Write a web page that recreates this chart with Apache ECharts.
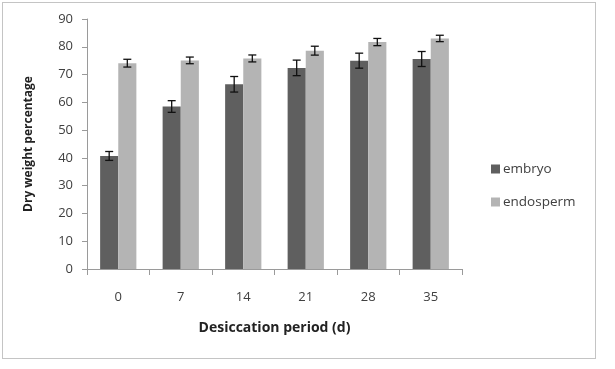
<!DOCTYPE html>
<html>
<head>
<meta charset="utf-8">
<script src="https://cdn.jsdelivr.net/npm/echarts@6/dist/echarts.min.js"></script>
<style>
  html, body { margin: 0; padding: 0; background: #fff; }
  #chart { width: 615px; height: 369px; }
  #frame { position: absolute; left: 2px; top: 2px; width: 592px; height: 355px; border: 1.5px solid #c4c4c4; pointer-events: none; }
</style>
</head>
<body>
<div id="chart"></div>
<div id="frame"></div>
<script>
const categories = ["0", "7", "14", "21", "28", "35"];
const embryo = [40.7, 58.5, 66.5, 72.4, 75.0, 75.6];
const embryoErr = [1.6, 2.1, 2.8, 2.8, 2.7, 2.7];
const endosperm = [74.1, 75.1, 75.8, 78.6, 81.7, 83.0];
const endospermErr = [1.4, 1.2, 1.25, 1.6, 1.3, 1.15];
const yTicks = { min: 0, max: 90, interval: 10 };

const font = "'Open Sans', 'Noto Sans', sans-serif";
const catGap = 0.42;

// error bar drawn with custom series, shifted to sit on its bar
function errorSeries(name, vals, errs, side) {
  return {
    type: "custom",
    name: name + " err",
    z: 10,
    silent: true,
    data: vals.map((v, i) => [i, v - errs[i], v + errs[i]]),
    renderItem(params, api) {
      const band = api.size([1, 0])[0];
      const bw = band * (1 - catGap) / 2;
      const lo = api.coord([api.value(0), api.value(1)]);
      const hi = api.coord([api.value(0), api.value(2)]);
      const x = lo[0] + side * bw / 2;
      const cap = 4;
      const style = { stroke: "#111", lineWidth: 1.3 };
      return {
        type: "group",
        children: [
          { type: "line", shape: { x1: x, y1: lo[1], x2: x, y2: hi[1] }, style },
          { type: "line", shape: { x1: x - cap, y1: lo[1], x2: x + cap, y2: lo[1] }, style },
          { type: "line", shape: { x1: x - cap, y1: hi[1], x2: x + cap, y2: hi[1] }, style }
        ]
      };
    }
  };
}

const chart = echarts.init(document.getElementById("chart"));
chart.setOption({
  animation: false,
  backgroundColor: "#fff",
  textStyle: { fontFamily: font },
  grid: { left: 87, right: 153, top: 19, bottom: 100 },
  legend: {
    data: ["embryo", "endosperm"],
    orient: "vertical",
    left: 486,
    top: 157,
    icon: "rect",
    itemWidth: 9,
    itemHeight: 9,
    itemGap: 19,
    textStyle: { fontSize: 13.5, color: "#404040", fontFamily: font, padding: [0, 0, 0, -2] }
  },
  xAxis: {
    type: "category",
    data: categories,
    name: "Desiccation period (d)",
    nameLocation: "middle",
    nameGap: 52,
    nameTextStyle: { fontSize: 14, fontWeight: "bold", color: "#222" },
    axisLine: { lineStyle: { color: "#9a9a9a" } },
    axisTick: { show: true, length: 6, lineStyle: { color: "#9a9a9a" } },
    axisLabel: { fontSize: 13, color: "#404040", margin: 22 }
  },
  yAxis: {
    type: "value",
    min: yTicks.min,
    max: yTicks.max,
    interval: yTicks.interval,
    name: "Dry weight percentage",
    nameLocation: "middle",
    nameGap: 52,
    nameTextStyle: { fontSize: 12, fontWeight: "bold", color: "#222" },
    axisLine: { show: true, lineStyle: { color: "#9a9a9a" } },
    axisTick: { show: true, length: 5, lineStyle: { color: "#9a9a9a" } },
    axisLabel: { fontSize: 13, color: "#404040", margin: 14 },
    splitLine: { show: false }
  },
  series: [
    {
      type: "bar",
      name: "embryo",
      data: embryo,
      barGap: "0%",
      barCategoryGap: catGap * 100 + "%",
      itemStyle: { color: "#5f5f5f" }
    },
    {
      type: "bar",
      name: "endosperm",
      data: endosperm,
      itemStyle: { color: "#b4b4b4" }
    },
    errorSeries("embryo", embryo, embryoErr, -1),
    errorSeries("endosperm", endosperm, endospermErr, 1)
  ]
});
</script>
</body>
</html>
